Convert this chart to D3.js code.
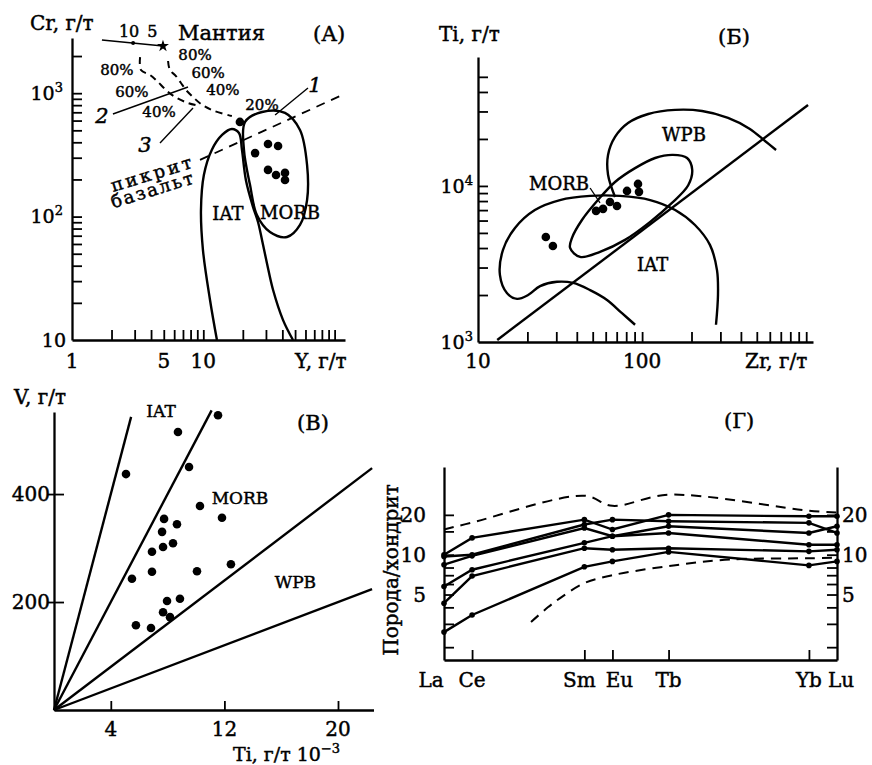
<!DOCTYPE html>
<html>
<head>
<meta charset="utf-8">
<script src="https://cdn.jsdelivr.net/npm/d3@7"></script>
<style>
  body { margin: 0; background: #fff; }
  svg { display: block; font-family: "DejaVu Serif", "Liberation Serif", serif; }
  svg text { fill: #000; stroke: #000; stroke-width: 0.45px; }
</style>
</head>
<body>
<svg id="chart" width="872" height="765"></svg>
<script>
// ---------- (А) Cr vs Y ----------
var crYPoints = [[19.0,585],[31.1,387],[37.1,373],[24.8,327],[31.1,239],[35.8,217],[41.9,226],[41.9,198]];
var crYIat = [[12.7,10],[11.25,21.1],[9.94,53.6],[9.6,113],[10.1,217],[11.6,347],[13.9,459],[16.5,513],
  [18.7,476],[19.7,347],[21.1,198],[23.9,120],[26.1,90.4],[28.0,64.6],[30.5,42.1],[34.0,25.4],[40.5,14.5],[48.2,10]];
var crYMorb = [[20.8,585],[28.0,704],[41.9,692],[54.5,503],[61.7,262],[61.7,136],[54.5,85.5],[43.4,68.3],
  [32.2,75],[25.6,103],[22.7,180],[20.4,347]];
var crYMeltLeft = [[3.30,1963],[3.35,1542],[3.93,1404],[4.44,1255],[5.20,1062],[6.09,931],[7.65,833],[9.44,787]];
var crYMeltRight = [[5.39,1823],[5.57,1542],[6.19,1377],[6.76,1210],[7.38,1062],[8.35,931],[9.6,817],[11.6,731],[16.5,653]];
var crYPicriteLine = [[9.44,288],[110,948]];
var crYTieLines = [
  {label: "1", pts: [[35.2,666],[62.7,1100]], at: [70.9,1165]},
  {label: "2", pts: [[2.05,678],[7.65,1122]], at: [1.69,653]},
  {label: "3", pts: [[4.68,394],[8.35,759]], at: [3.60,380]}
];
var crYMantle = [[1.69,2700],[4.93,2410]];
var crYMantleMark = [2.92,2550];
var crYPercent = [
  ["80%",2.20,1542],["60%",2.86,1023],["40%",4.60,704],
  ["80%",8.65,2040],["60%",10.9,1458],["40%",14.1,1062],["20%",28.0,802]
];
var crYFieldLabels = [["IAT",15.4,105],["MORB",45.7,107]];
var crYXTicks = [2,3,4,5,6,7,8,9,10,20,30,40,50,60,70,80,90,100];
var crYYTicks = [20,30,40,50,60,70,80,90,100,200,300,400,500,600,700,800,900,1000,2000];
var crYXLabels = [1,5,10];

// ---------- (Б) Ti vs Zr ----------
var tiZrPoints = [[25.9,4710],[28.6,4125],[52.4,6920],[57.8,7130],[63.7,7890],[70.3,7440],[80.9,9290],[94.4,10300],[95.7,9160]];
var tiZrIat = [[90.6,1290],[75.4,1530],[61.1,1860],[48.2,2150],[38.0,2390],[30.3,2430],[23.9,2280],[20.2,2000],
  [17.3,1890],[15.0,2060],[13.6,2690],[14.2,3890],[16.8,5380],[22.2,7010],[31.6,8120],[48.2,8630],[73.3,8630],
  [112,8120],[159,7010],[210,5620],[259,4190],[286,2890],[290,2000],[282,1290]];
var tiZrMorb = [[36.4,4010],[41.9,3510],[55.4,3780],[78.7,4510],[112,5880],[152,7780],[191,10100],[202,12700],
  [188,15100],[154,15800],[120,15100],[90.6,13000],[68.4,10600],[53.8,8120],[43.0,6050],[37.4,4650]];
var tiZrWpb = [[68.4,8500],[62.0,11800],[62.0,15800],[68.4,20600],[82.1,25300],[109,28900],[159,30700],
  [232,30200],[334,27300],[454,23200],[561,19400],[655,17000]];
var tiZrDivide = [[13.1,1030],[1026,33000]];
var tiZrMorbPointer = [[48.2,9700],[55.4,7780]];
var tiZrFieldLabels = [["MORB",31.2,10400],["WPB",180,21200],["IAT",116,3115]];
var tiZrXTicks = [20,30,40,50,60,70,80,90,100,200,300,400,500,600,700,800,900,1000];
var tiZrYTicks = [2000,3000,4000,5000,6000,7000,8000,9000,10000,20000,30000,40000,50000];

// ---------- (В) V vs Ti ----------
var vTiPoints = [[5.07,437],[8.73,515],[11.55,546],[9.51,450],[10.28,378],[11.83,356],[7.75,354],[8.66,344],
  [7.61,330],[8.38,309],[7.68,302],[6.90,293],[12.46,270],[6.90,256],[10.07,257],[5.49,243],[7.96,202],
  [8.87,206],[7.68,181],[8.17,172],[5.77,157],[6.83,152]];
var vTiRatioEnds = [[5.43,543],[11.1,555],[22.4,448],[22.4,224]];
var vTiFieldLabels = [["IAT",7.54,554],["MORB",13.1,393],["WPB",17.0,237]];
var vTiXTicks = [4,12,20];
var vTiYTicks = [200,400];

// ---------- (Г) REE / chondrite ----------
var reeNames = ["La","Ce","Sm","Eu","Tb","Yb","Lu"];
var reeZ = [57,58,62,63,65,70,71];
var reeSamples = [
  [10.0,13.4,18.4,15.5,20.0,19.5,19.5],
  [9.7,10.0,16.9,18.4,17.9,17.4,14.6],
  [8.4,9.8,15.9,13.8,16.4,14.6,16.4],
  [5.75,7.7,12.3,13.8,14.6,11.9,11.9],
  [4.3,6.9,11.2,10.9,11.2,10.6,10.9],
  [2.6,3.5,8.1,8.9,10.5,8.3,8.9]
];
var reeUpperEnvelope = [[57,15.5],[58,17.5],[62,27.9],[63,23.4],[65,28.4],[70,21.5],[71,20.8]];
var reeLowerEnvelope = [[60.1,3.1],[60.7,4.0],[61.2,4.8],[62,6.1],[63,7.0],[65,8.2],[67.2,9.2],[70,9.4],[71,9.5]];
var reeYTicks = [2,3,4,5,6,7,8,10,15,20];
var reeYLabels = [5,10,20];

var svg = d3.select("#chart");

var text = function(g, x, y, str, size, anchor) {
  return g.append("text").attr("x", x).attr("y", y)
    .attr("font-size", size || 20)
    .attr("text-anchor", anchor || "middle")
    .text(str);
};

var powLabel = function(g, x, y, base, exp) {
  var t = g.append("text").attr("x", x).attr("y", y)
    .attr("font-size", 19).attr("text-anchor", "end").attr("dy", "0.35em");
  t.append("tspan").text(base);
  if (exp) t.append("tspan").attr("dy", -8).attr("font-size", 13).text(exp);
};

var frame = function(g, x, y, xTicks, yTicks) {
  var x0 = x.range()[0], y0 = y.range()[0];
  g.append("g").attr("transform", "translate(0," + y0 + ")")
    .call(d3.axisTop(x).tickValues(xTicks).tickSize(10).tickSizeOuter(0).tickFormat(""))
    .call(styleAxis);
  g.append("g").attr("transform", "translate(" + x0 + ",0)")
    .call(d3.axisRight(y).tickValues(yTicks).tickSize(10).tickSizeOuter(0).tickFormat(""))
    .call(styleAxis);
};

function styleAxis(a) {
  a.select(".domain").attr("stroke", "#000").attr("stroke-width", 2.3);
  a.selectAll(".tick line").attr("stroke", "#000").attr("stroke-width", 1.8);
}

var curve = function(g, pts, x, y, closed, dashed, width) {
  g.append("path").datum(pts)
    .attr("fill", "none").attr("stroke", "#000")
    .attr("stroke-width", width || 2.4)
    .attr("stroke-dasharray", dashed ? dashed : null)
    .attr("d", d3.line()
      .curve(closed ? d3.curveCatmullRomClosed : d3.curveCatmullRom)
      .x(function(d) { return x(d[0]); })
      .y(function(d) { return y(d[1]); }));
};

var dots = function(g, pts, x, y, r) {
  g.selectAll(null).data(pts).enter().append("circle")
    .attr("cx", function(d) { return x(d[0]); })
    .attr("cy", function(d) { return y(d[1]); })
    .attr("r", r).attr("fill", "#000");
};

// ===== panel А =====
var gA = svg.append("g");
var xA = d3.scaleLog().domain([1, 120]).range([72, 345]);
var yA = d3.scaleLog().domain([10, 2800]).range([340, 38]);
frame(gA, xA, yA, crYXTicks, crYYTicks);

curve(gA, crYIat, xA, yA, false);
curve(gA, crYMorb, xA, yA, true);
curve(gA, crYMeltLeft, xA, yA, false, "7,5", 2);
curve(gA, crYMeltRight, xA, yA, false, "7,5", 2);
curve(gA, crYPicriteLine, xA, yA, false, "9,7", 1.8);
crYTieLines.forEach(function(t) {
  curve(gA, t.pts, xA, yA, false, null, 1.4);
  text(gA, xA(t.at[0]), yA(t.at[1]), t.label, 21).attr("dy", "0.35em").attr("font-style", "italic");
});
curve(gA, crYMantle, xA, yA, false, null, 1.6);
gA.append("circle").attr("cx", xA(crYMantleMark[0])).attr("cy", yA(crYMantleMark[1])).attr("r", 2);
gA.append("path").attr("d", d3.symbol(d3.symbolStar).size(45)())
  .attr("transform", "translate(" + xA(crYMantle[1][0]) + "," + yA(crYMantle[1][1]) + ")");
text(gA, xA(2.72), yA(3190), "10", 16).attr("dy", "0.35em");
text(gA, xA(4.10), yA(3190), "5", 16).attr("dy", "0.35em");
text(gA, xA(6.42), yA(2700), "Мантия", 21, "start");
crYPercent.forEach(function(p) {
  text(gA, xA(p[1]), yA(p[2]), p[0], 15).attr("dy", "0.35em");
});
crYFieldLabels.forEach(function(p) {
  text(gA, xA(p[1]), yA(p[2]), p[0], 18).attr("dy", "0.35em");
});
gA.append("text").attr("transform", "translate(" + xA(2.05) + "," + yA(158) + ") rotate(-17)")
  .attr("font-size", 18).attr("letter-spacing", 3).text("пикрит");
gA.append("text").attr("transform", "translate(" + xA(2.05) + "," + yA(117) + ") rotate(-17)")
  .attr("font-size", 18).attr("letter-spacing", 2).text("базальт");
dots(gA, crYPoints, xA, yA, 4.3);

powLabel(gA, 66, yA(10), "10");
powLabel(gA, 63, yA(100), "10", "2");
powLabel(gA, 63, yA(1000), "10", "3");
crYXLabels.forEach(function(v) { text(gA, xA(v), 368, v, 20); });
text(gA, 295, 368, "Y, г/т", 20, "start");
text(gA, 30, 30, "Cr, г/т", 20, "start");
text(gA, 313, 41, "(А)", 21, "start");

// ===== panel Б =====
var gB = svg.append("g");
var xB = d3.scaleLog().domain([10, 1100]).range([478, 813]);
var yB = d3.scaleLog().domain([1000, 67000]).range([342, 57]);
frame(gB, xB, yB, tiZrXTicks, tiZrYTicks);
curve(gB, tiZrIat, xB, yB, false);
curve(gB, tiZrMorb, xB, yB, true);
curve(gB, tiZrWpb, xB, yB, false);
curve(gB, tiZrDivide, xB, yB, false);
curve(gB, tiZrMorbPointer, xB, yB, false, null, 1.3);
tiZrFieldLabels.forEach(function(p) {
  text(gB, xB(p[1]), yB(p[2]), p[0], 18).attr("dy", "0.35em");
});
dots(gB, tiZrPoints, xB, yB, 4.3);
powLabel(gB, 473, yB(1000), "10", "3");
powLabel(gB, 473, yB(10000), "10", "4");
text(gB, xB(10), 368, "10", 20);
text(gB, xB(100), 368, "100", 20);
text(gB, 745, 368, "Zr, г/т", 20, "start");
text(gB, 439, 41, "Ti, г/т", 20, "start");
text(gB, 718, 44, "(Б)", 21, "start");

// ===== panel В =====
var gC = svg.append("g");
var xC = d3.scaleLinear().domain([0, 22.5]).range([54, 373.5]);
var yC = d3.scaleLinear().domain([0, 552]).range([710, 412]);
gC.append("g").attr("transform", "translate(0," + yC(0) + ")")
  .call(d3.axisTop(xC).tickValues(vTiXTicks).tickSize(9).tickSizeOuter(0).tickFormat(""))
  .call(styleAxis);
gC.append("g").attr("transform", "translate(" + xC(0) + ",0)")
  .call(d3.axisRight(yC).tickValues(vTiYTicks).tickSize(10).tickSizeOuter(0).tickFormat(""))
  .call(styleAxis)
  .selectAll(".tick line").attr("x1", -6);
vTiRatioEnds.forEach(function(e) {
  curve(gC, [[0, 0], e], xC, yC, false);
});
dots(gC, vTiPoints, xC, yC, 4.3);
vTiFieldLabels.forEach(function(p) {
  text(gC, xC(p[1]), yC(p[2]), p[0], 17).attr("dy", "0.35em");
});
vTiYTicks.forEach(function(v) { text(gC, 50, yC(v), v, 20, "end").attr("dy", "0.35em"); });
vTiXTicks.forEach(function(v) { text(gC, xC(v), 736, v, 20); });
var tl = gC.append("text").attr("x", 233).attr("y", 761).attr("font-size", 19);
tl.append("tspan").text("Ti, г/т 10");
tl.append("tspan").attr("dy", -8).attr("font-size", 13).text("−3");
text(gC, 14, 404, "V, г/т", 20, "start");
text(gC, 297, 430, "(В)", 21, "start");

// ===== panel Г =====
var gD = svg.append("g");
var xD = d3.scaleLinear().domain([57, 71]).range([444, 837]);
var yD = d3.scaleLog().domain([1.6, 46]).range([660, 467]);
gD.append("g").attr("transform", "translate(0," + yD.range()[0] + ")")
  .call(d3.axisTop(xD).tickValues(reeZ.slice(1, 6)).tickSize(10).tickSizeOuter(0).tickFormat(""))
  .call(styleAxis);
gD.append("g").attr("transform", "translate(" + xD(57) + ",0)")
  .call(d3.axisRight(yD).tickValues(reeYTicks).tickSize(10).tickSizeOuter(0).tickFormat(""))
  .call(styleAxis);
gD.append("g").attr("transform", "translate(" + xD(71) + ",0)")
  .call(d3.axisLeft(yD).tickValues(reeYTicks).tickSize(10).tickSizeOuter(0).tickFormat(""))
  .call(styleAxis);

curve(gD, reeUpperEnvelope, xD, yD, false, "10,7", 2);
curve(gD, reeLowerEnvelope, xD, yD, false, "10,7", 2);
var reeLine = d3.line().x(function(d) { return xD(d[0]); }).y(function(d) { return yD(d[1]); });
reeSamples.forEach(function(s) {
  var pts = s.map(function(v, i) { return [reeZ[i], v]; });
  gD.append("path").datum(pts).attr("fill", "none").attr("stroke", "#000")
    .attr("stroke-width", 2.4).attr("d", reeLine);
  dots(gD, pts, xD, yD, 2.8);
});
reeYLabels.forEach(function(v) {
  text(gD, 426, yD(v), v, 20, "end").attr("dy", "0.35em");
  text(gD, 842, yD(v), v, 20, "start").attr("dy", "0.35em");
});
// element labels sit a little off their ticks in the original
var reeLabelShift = {La: -13, Sm: -5, Eu: 7, Lu: 4};
reeNames.forEach(function(n, i) {
  text(gD, xD(reeZ[i]) + (reeLabelShift[n] || 0), 687, n, 20);
});
gD.append("text").attr("transform", "translate(398,570) rotate(-90)")
  .attr("font-size", 20).attr("text-anchor", "middle").text("Порода/хондрит");
text(gD, 724, 428, "(Г)", 21, "start");
</script>
</body>
</html>
